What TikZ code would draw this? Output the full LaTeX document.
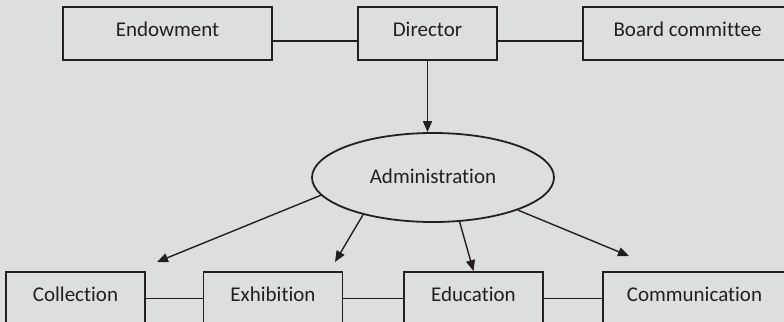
\documentclass[tikz,border=0pt]{standalone}
\usepackage{fontspec}
\setmainfont{Carlito}[Ligatures = {NoCommon, NoContextual}]
\usetikzlibrary{shapes.geometric,arrows.meta}
\definecolor{bggray}{RGB}{221,222,224}
\definecolor{inkgray}{RGB}{35,31,32}
\begin{document}
\begin{tikzpicture}[x=0.5pt, y=-0.5pt, font=\fontsize{10.5}{12}\selectfont, color=inkgray]
        \tikzstyle{org_box}   = [shape = rectangle, draw = inkgray, line width = 0.9pt, inner sep = 0pt,
                                 minimum height = 26.5pt, text height = 14.5pt, text depth = 12pt, minimum width = 69.5pt]
        \tikzstyle{org_wide}  = [org_box, minimum width = 104.5pt]
        \tikzstyle{org_admin} = [shape = ellipse, draw = inkgray, line width = 0.9pt, inner sep = 0pt,
                                 minimum width = 121pt, minimum height = 44.5pt]
        \tikzstyle{org_link}  = [draw = inkgray, line width = 0.7pt]
        \tikzstyle{org_arrow} = [org_link, -{Triangle[length = 5.5pt, width = 4.5pt]}]

        \path[use as bounding box, fill = bggray] (0, 0) rectangle (784, 322);

        % top row
        \node[org_wide] at (167.5,  33.5) (endow) {Endowment};
        \node[org_box]  at (427.5,  33.5) (dir)   {Director};
        \node[org_wide] at (687.5,  33.5) (board) {Board committee};

        % administration
        \node[org_admin, label = {[anchor = base, yshift = 0.75pt]center:Administration}]
                        at (433.0, 177.5) (admin) {};

        % bottom row
        \node[org_box]  at ( 75.5, 298.5) (coll)  {Collection};
        \node[org_box]  at (273.0, 298.5) (exhib) {Exhibition};
        \node[org_box]  at (473.5, 298.5) (educ)  {Education};
        \node[org_box, minimum width = 91.5pt]
                        at (694.5, 298.5) (comm)  {Communication};

        \coordinate (t_coll)  at (157, 262);
        \coordinate (t_exhib) at (335, 262);
        \coordinate (t_comm)  at (629, 256);

        \draw[org_link]
          ([yshift = -3.75pt]endow.east) -- ([yshift = -3.75pt]dir.west)
          ([yshift = -3.75pt]dir.east)   -- ([yshift = -3.75pt]board.west)
          (coll)  -- (exhib)
          (exhib) -- (educ)
          (educ)  -- (comm)
        ;

        \path
          (dir.south) edge[org_arrow] (dir.south |- admin.north)
          (admin.189) edge[org_arrow] (t_coll)
          (admin.208) edge[org_arrow] (t_exhib)
          (admin.301) edge[org_arrow] (educ.north)
          (admin.339) edge[org_arrow] (t_comm)
        ;
      \end{tikzpicture}
\end{document}
